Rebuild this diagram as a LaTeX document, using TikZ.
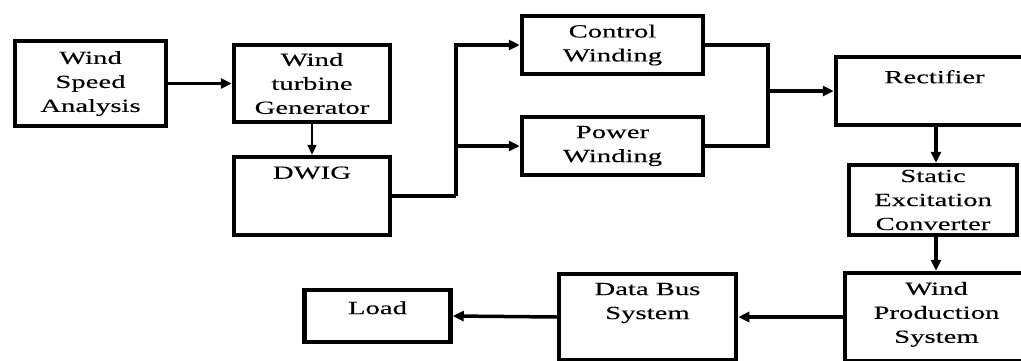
\documentclass[tikz,border=0pt]{standalone}
\usepackage{fontspec}
\setmainfont[FakeStretch=1.55,FakeBold=0.25]{Liberation Serif}
\usetikzlibrary{arrows.meta}
\tikzset{
  box/.style={draw, line width=4.5pt, inner sep=0pt, align=center,
    font=\fontsize{18.5}{24}\selectfont},
  toptext/.style={inner sep=0pt, align=center, font=\fontsize{18.5}{24}\selectfont},
  conn/.style={line width=3.5pt},
  arr/.style={line width=3.5pt, -{Triangle[length=11pt,width=10pt]}},
  thinarr/.style={line width=2.2pt, -{Triangle[length=10pt,width=9pt]}}
}
\begin{document}
\begin{tikzpicture}[x=1pt,y=-1pt]
\useasboundingbox (0,0) rectangle (1021,360);
\fill[white] (0,0) rectangle (1021,360);
\clip (0,0) rectangle (1021,360);

\node[box, minimum width=151pt, minimum height=85pt] (wsa) at (90.5,83.5) {Wind\\Speed\\Analysis};
\node[box, minimum width=156pt, minimum height=77pt] (wtg) at (312,83.5) {Wind\\turbine\\Generator};
\node[box, minimum width=156pt, minimum height=78pt,
  label={[toptext, name=dwigt, anchor=center, yshift=-18pt]north:DWIG}] (dwig) at (312,196) {};
\node[box, minimum width=181pt, minimum height=58pt] (cw) at (612.5,45) {Control\\Winding};
\node[box, minimum width=181pt, minimum height=58pt] (pw) at (612.5,146) {Power\\Winding};
\node[box, minimum width=197pt, minimum height=68pt,
  label={[toptext, name=rectt, anchor=center, yshift=-22pt]north:Rectifier}] (rect) at (934.5,91) {};
\node[box, minimum width=168pt, minimum height=70pt] (sec) at (933,200) {Static\\Excitation\\Converter};
\node[box, minimum width=183pt, minimum height=88pt,
  label={[toptext, name=wpst, anchor=north, yshift=-11pt]north:Wind\\Production\\System}] (wps) at (936.5,317) {};
\node[box, minimum width=177pt, minimum height=86pt,
  label={[toptext, name=dbst, anchor=north, yshift=-11pt]north:Data Bus\\System}] (dbs) at (647.5,317) {};
\node[box, minimum width=146pt, minimum height=52pt,
  label={[toptext, name=loadt, anchor=center, yshift=-20pt]north:Load}] (load) at (377.5,316) {};

\coordinate (j1) at (456,196);
\coordinate (j2) at (768,91);
\coordinate (cx) at (936,0);

\draw[arr] (wsa.east) -- (wtg.west);
\draw[thinarr] (wtg.south) -- (dwig.north);
\draw[conn] (dwig.east) -- (j1);
\draw[arr] (j1) |- (cw.west);
\draw[arr] (j1 |- pw.west) -- (pw.west);
\draw[conn] (cw.east) -| (j2) |- (pw.east);
\draw[arr] (j2) -- (rect.west);
\draw[arr] (rect.south -| cx) -- (sec.north -| cx);
\draw[arr] (sec.south -| cx) -- (wps.north -| cx);
\draw[arr] (wps.west) -- (dbs.east);
\draw[arr] (dbs.west) -- (load.east);
\end{tikzpicture}
\end{document}
